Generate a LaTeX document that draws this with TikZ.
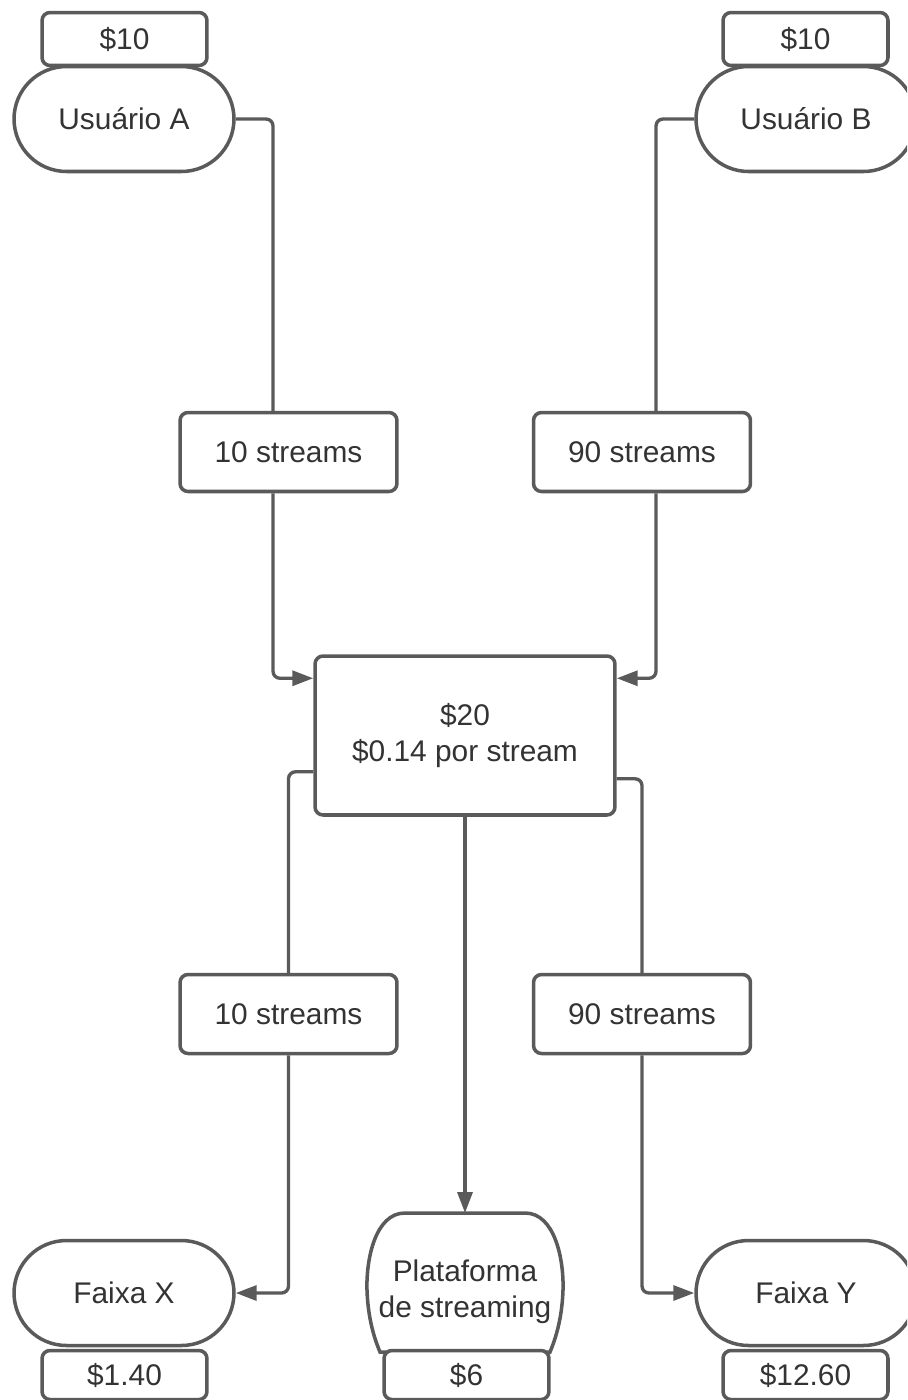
\documentclass[tikz,border=0pt]{standalone}
\usepackage{fontspec}
\setmainfont{Liberation Sans}
\usetikzlibrary{arrows.meta}
\definecolor{linegray}{HTML}{5A5A5A}
\definecolor{textgray}{HTML}{333333}

\begin{document}
\begin{tikzpicture}[x=0.02cm, y=-0.02cm,
    every node/.style={font=\fontsize{17}{20.5}\selectfont, text=textgray, align=center},
    terminal/.style={draw=linegray, line width=2pt, fill=white, rounded corners=1.05cm,
      minimum width=4.4cm, minimum height=2.1cm},
    pricebox/.style={draw=linegray, line width=2pt, fill=white, rounded corners=0.16cm,
      minimum width=3.3cm, minimum height=1.06cm},
    streambox/.style={draw=linegray, line width=2pt, fill=white, rounded corners=0.16cm,
      minimum width=4.34cm, minimum height=1.58cm},
    flow/.style={draw=linegray, line width=1.9pt, rounded corners=0.14cm},
    arr/.style={flow, -{Triangle[length=0.42cm,width=0.3cm]}}]
        \clip (0,0) rectangle (907,1400);

        % Users
        \node[terminal] (ua) at (124,119) {Usuário A};
        \node[terminal] (ub) at (806,119) {Usuário B};
        \node[pricebox] (pa) at (124.5,39) {\$10};
        \node[pricebox] (pb) at (805.5,39) {\$10};

        % Streams and pool
        \node[streambox] (s1) at (288.5,452) {10 streams};
        \node[streambox] (s2) at (642,452) {90 streams};
        \node[draw=linegray, line width=2pt, fill=white, rounded corners=0.16cm,
          minimum width=6cm, minimum height=3.18cm] (mid) at (465,735.5)
          {\$20\\\$0.14 por stream};
        \node[streambox] (s3) at (288.5,1014) {10 streams};
        \node[streambox] (s4) at (642,1014) {90 streams};

        % Receivers
        \node[terminal] (fx) at (124,1293) {Faixa X};
        \node[terminal] (fy) at (806,1293) {Faixa Y};
        \draw[linegray, line width=2pt, fill=white] (405,1213) -- (525,1213)
          .. controls (555,1213) and (564,1260) .. (563,1290)
          .. controls (562,1320) and (555,1340) .. (550,1352) -- (380,1352)
          .. controls (375,1340) and (368,1320) .. (367,1290)
          .. controls (366,1260) and (375,1213) .. (405,1213) -- cycle;
        \coordinate (top) at (465,1213);
        \node (plat) at (465,1292) {Plataforma\\de streaming};
        \node[pricebox, minimum height=0.98cm] (px) at (124.5,1375) {\$1.40};
        \node[pricebox, minimum height=0.98cm] (pp) at (466.5,1375) {\$6};
        \node[pricebox, minimum height=0.98cm] (py) at (805.5,1375) {\$12.60};

        % Connectors
        \draw[flow] (ua.east) -| ([xshift=-0.31cm]s1.north);
        \draw[arr] ([xshift=-0.31cm]s1.south) |- ([yshift=-0.48cm]mid.north west);
        \draw[flow] (ub.west) -| ([xshift=0.28cm]s2.north);
        \draw[arr] ([xshift=0.28cm]s2.south) |- ([yshift=-0.48cm]mid.north east);
        \draw[flow] ([yshift=0.9cm]mid.south west) -| (s3.north);
        \draw[arr] (s3.south) |- (fx.east);
        \draw[arr] (mid.south) -- (top);
        \draw[flow] ([yshift=0.76cm]mid.south east) -| (s4.north);
        \draw[arr] (s4.south) |- (fy.west);
    \end{tikzpicture}
\end{document}
